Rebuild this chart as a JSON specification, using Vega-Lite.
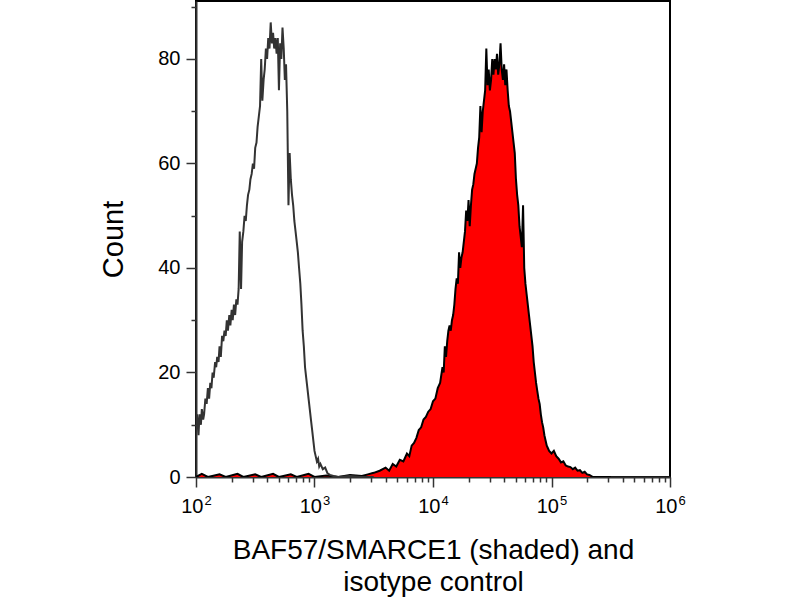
{
  "$schema": "https://vega.github.io/schema/vega-lite/v6.json",
  "width": 474,
  "height": 476,
  "autosize": {"type": "none"},
  "padding": {"left": 196, "top": 1, "right": 130, "bottom": 123},
  "background": "white",
  "config": {
    "view": {"stroke": "black", "strokeWidth": 2},
    "axis": {
      "grid": false,
      "domainColor": "#333333",
      "domainWidth": 2,
      "tickColor": "#333333",
      "tickWidth": 1.5,
      "labelFont": "Liberation Sans",
      "labelFontSize": 20,
      "labelColor": "black",
      "titleFont": "Liberation Sans",
      "titleFontWeight": "normal",
      "titleColor": "black"
    }
  },
  "datasets": {
    "shaded": [
      {"intensity": 100, "count": 0}, {"intensity": 112, "count": 0.6}, {"intensity": 126, "count": 0},
      {"intensity": 158, "count": 0.5}, {"intensity": 178, "count": 0}, {"intensity": 224, "count": 0.6},
      {"intensity": 251, "count": 0}, {"intensity": 316, "count": 0.5}, {"intensity": 355, "count": 0},
      {"intensity": 447, "count": 0.6}, {"intensity": 501, "count": 0}, {"intensity": 631, "count": 0.5},
      {"intensity": 708, "count": 0}, {"intensity": 891, "count": 0.6}, {"intensity": 1000, "count": 0},
      {"intensity": 1259, "count": 0.3}, {"intensity": 1585, "count": 0}, {"intensity": 1995, "count": 0.4},
      {"intensity": 2512, "count": 0.2}, {"intensity": 2818, "count": 0.5}, {"intensity": 3162, "count": 0.8},
      {"intensity": 3548, "count": 1.2}, {"intensity": 3981, "count": 1.8}, {"intensity": 4266, "count": 1.2},
      {"intensity": 4571, "count": 2.5}, {"intensity": 4898, "count": 2.0}, {"intensity": 5248, "count": 3.3},
      {"intensity": 5623, "count": 3.0}, {"intensity": 6026, "count": 4.5}, {"intensity": 6310, "count": 4.0},
      {"intensity": 6607, "count": 6.0}, {"intensity": 6918, "count": 6.5}, {"intensity": 7244, "count": 7.5},
      {"intensity": 7586, "count": 9.0}, {"intensity": 7943, "count": 9.5}, {"intensity": 8318, "count": 11},
      {"intensity": 8710, "count": 11.5}, {"intensity": 9120, "count": 12.5}, {"intensity": 9550, "count": 13},
      {"intensity": 10000, "count": 14.5}, {"intensity": 10471, "count": 15}, {"intensity": 10965, "count": 17},
      {"intensity": 11482, "count": 18}, {"intensity": 12023, "count": 21}, {"intensity": 12303, "count": 20},
      {"intensity": 12589, "count": 25}, {"intensity": 12882, "count": 23}, {"intensity": 13183, "count": 26},
      {"intensity": 13490, "count": 28}, {"intensity": 13804, "count": 29}, {"intensity": 14125, "count": 28},
      {"intensity": 14454, "count": 30}, {"intensity": 14791, "count": 31}, {"intensity": 15136, "count": 33},
      {"intensity": 15488, "count": 36}, {"intensity": 15849, "count": 38}, {"intensity": 16218, "count": 37},
      {"intensity": 16596, "count": 43}, {"intensity": 16982, "count": 40}, {"intensity": 17378, "count": 42},
      {"intensity": 17783, "count": 43}, {"intensity": 18197, "count": 45}, {"intensity": 18621, "count": 47},
      {"intensity": 19055, "count": 51}, {"intensity": 19498, "count": 49}, {"intensity": 19953, "count": 53},
      {"intensity": 20417, "count": 48}, {"intensity": 20893, "count": 52}, {"intensity": 21380, "count": 55},
      {"intensity": 21878, "count": 56}, {"intensity": 22387, "count": 58}, {"intensity": 22909, "count": 59},
      {"intensity": 23442, "count": 60}, {"intensity": 23988, "count": 63}, {"intensity": 24547, "count": 65},
      {"intensity": 25119, "count": 71}, {"intensity": 25704, "count": 66}, {"intensity": 26303, "count": 70},
      {"intensity": 26915, "count": 72}, {"intensity": 27542, "count": 74}, {"intensity": 28184, "count": 82},
      {"intensity": 28840, "count": 75}, {"intensity": 29512, "count": 78}, {"intensity": 30200, "count": 74},
      {"intensity": 30903, "count": 76}, {"intensity": 31623, "count": 80}, {"intensity": 32359, "count": 77},
      {"intensity": 33113, "count": 80}, {"intensity": 33884, "count": 78}, {"intensity": 34674, "count": 81},
      {"intensity": 35481, "count": 77}, {"intensity": 36308, "count": 79}, {"intensity": 37154, "count": 83},
      {"intensity": 38019, "count": 78}, {"intensity": 38905, "count": 76}, {"intensity": 39811, "count": 79},
      {"intensity": 40738, "count": 75}, {"intensity": 41687, "count": 78}, {"intensity": 42658, "count": 74},
      {"intensity": 43652, "count": 71}, {"intensity": 44668, "count": 70}, {"intensity": 45709, "count": 68},
      {"intensity": 46774, "count": 66}, {"intensity": 47863, "count": 64}, {"intensity": 48978, "count": 62},
      {"intensity": 50119, "count": 57}, {"intensity": 51286, "count": 54}, {"intensity": 52481, "count": 52},
      {"intensity": 53703, "count": 48}, {"intensity": 54954, "count": 46}, {"intensity": 56234, "count": 44},
      {"intensity": 57544, "count": 52}, {"intensity": 58884, "count": 40}, {"intensity": 60256, "count": 37},
      {"intensity": 61660, "count": 35}, {"intensity": 63096, "count": 33}, {"intensity": 64565, "count": 31},
      {"intensity": 66069, "count": 29}, {"intensity": 67608, "count": 27}, {"intensity": 69183, "count": 25},
      {"intensity": 70795, "count": 22}, {"intensity": 72444, "count": 20}, {"intensity": 74131, "count": 18},
      {"intensity": 75858, "count": 16.5}, {"intensity": 77625, "count": 15}, {"intensity": 79433, "count": 14},
      {"intensity": 81283, "count": 12}, {"intensity": 83176, "count": 10.5}, {"intensity": 85114, "count": 9.5},
      {"intensity": 87096, "count": 8}, {"intensity": 89125, "count": 7}, {"intensity": 91201, "count": 6},
      {"intensity": 93325, "count": 5.5}, {"intensity": 95499, "count": 5}, {"intensity": 100000, "count": 4.5},
      {"intensity": 104713, "count": 5}, {"intensity": 109648, "count": 4}, {"intensity": 114815, "count": 3.5},
      {"intensity": 120226, "count": 2.8}, {"intensity": 125893, "count": 3}, {"intensity": 131826, "count": 2.2},
      {"intensity": 138038, "count": 2.0}, {"intensity": 144544, "count": 1.9}, {"intensity": 151356, "count": 1.5},
      {"intensity": 158489, "count": 1.8}, {"intensity": 165959, "count": 1.2}, {"intensity": 173780, "count": 1.3},
      {"intensity": 181970, "count": 0.8}, {"intensity": 190546, "count": 1}, {"intensity": 199526, "count": 0.5},
      {"intensity": 208930, "count": 0.4}, {"intensity": 223872, "count": 0}, {"intensity": 316228, "count": 0}
    ],
    "isotype": [
      {"intensity": 100, "count": 9}, {"intensity": 102, "count": 12}, {"intensity": 105, "count": 8},
      {"intensity": 107, "count": 12}, {"intensity": 110, "count": 10}, {"intensity": 112, "count": 13},
      {"intensity": 115, "count": 11}, {"intensity": 117, "count": 12}, {"intensity": 120, "count": 15},
      {"intensity": 123, "count": 14}, {"intensity": 126, "count": 17}, {"intensity": 129, "count": 15},
      {"intensity": 132, "count": 18}, {"intensity": 135, "count": 17}, {"intensity": 138, "count": 20},
      {"intensity": 141, "count": 19}, {"intensity": 145, "count": 22}, {"intensity": 148, "count": 21},
      {"intensity": 151, "count": 23}, {"intensity": 155, "count": 22}, {"intensity": 158, "count": 25},
      {"intensity": 162, "count": 23}, {"intensity": 166, "count": 27}, {"intensity": 170, "count": 26},
      {"intensity": 174, "count": 28}, {"intensity": 178, "count": 27}, {"intensity": 182, "count": 30},
      {"intensity": 186, "count": 28}, {"intensity": 191, "count": 31}, {"intensity": 195, "count": 29},
      {"intensity": 200, "count": 32}, {"intensity": 204, "count": 30}, {"intensity": 209, "count": 33},
      {"intensity": 214, "count": 31}, {"intensity": 219, "count": 34}, {"intensity": 224, "count": 33},
      {"intensity": 229, "count": 36}, {"intensity": 234, "count": 47}, {"intensity": 240, "count": 36},
      {"intensity": 245, "count": 45}, {"intensity": 251, "count": 47}, {"intensity": 257, "count": 50},
      {"intensity": 263, "count": 49}, {"intensity": 269, "count": 52}, {"intensity": 275, "count": 54},
      {"intensity": 282, "count": 55}, {"intensity": 288, "count": 57}, {"intensity": 295, "count": 58},
      {"intensity": 302, "count": 60}, {"intensity": 309, "count": 59}, {"intensity": 316, "count": 63},
      {"intensity": 324, "count": 64}, {"intensity": 331, "count": 67}, {"intensity": 339, "count": 69},
      {"intensity": 347, "count": 71}, {"intensity": 355, "count": 80}, {"intensity": 363, "count": 72},
      {"intensity": 372, "count": 76}, {"intensity": 380, "count": 78}, {"intensity": 389, "count": 82},
      {"intensity": 398, "count": 80}, {"intensity": 407, "count": 84}, {"intensity": 417, "count": 82},
      {"intensity": 427, "count": 87}, {"intensity": 437, "count": 83}, {"intensity": 447, "count": 85},
      {"intensity": 457, "count": 82}, {"intensity": 468, "count": 84}, {"intensity": 479, "count": 81},
      {"intensity": 490, "count": 84}, {"intensity": 501, "count": 74}, {"intensity": 513, "count": 83},
      {"intensity": 525, "count": 80}, {"intensity": 537, "count": 86}, {"intensity": 550, "count": 82},
      {"intensity": 562, "count": 76}, {"intensity": 575, "count": 79}, {"intensity": 589, "count": 70},
      {"intensity": 603, "count": 52}, {"intensity": 617, "count": 62}, {"intensity": 631, "count": 57},
      {"intensity": 646, "count": 54}, {"intensity": 661, "count": 52}, {"intensity": 676, "count": 49},
      {"intensity": 692, "count": 47}, {"intensity": 708, "count": 45}, {"intensity": 724, "count": 43},
      {"intensity": 741, "count": 40}, {"intensity": 759, "count": 37}, {"intensity": 776, "count": 33},
      {"intensity": 794, "count": 28}, {"intensity": 813, "count": 25}, {"intensity": 832, "count": 21},
      {"intensity": 851, "count": 19}, {"intensity": 871, "count": 17}, {"intensity": 891, "count": 15},
      {"intensity": 912, "count": 13}, {"intensity": 933, "count": 11}, {"intensity": 955, "count": 9},
      {"intensity": 977, "count": 7}, {"intensity": 1000, "count": 5}, {"intensity": 1023, "count": 4},
      {"intensity": 1047, "count": 3}, {"intensity": 1072, "count": 3.5}, {"intensity": 1096, "count": 2},
      {"intensity": 1122, "count": 2.5}, {"intensity": 1175, "count": 1.5}, {"intensity": 1230, "count": 1.8},
      {"intensity": 1288, "count": 0.7}, {"intensity": 1349, "count": 0.4}, {"intensity": 1445, "count": 0.2},
      {"intensity": 1585, "count": 0}, {"intensity": 1995, "count": 0.2}, {"intensity": 2512, "count": 0},
      {"intensity": 3162, "count": 0}
    ]
  },
  "resolve": {"axis": {"x": "independent", "y": "independent"}},
  "layer": [
    {
      "data": {"name": "shaded"},
      "mark": {"type": "area", "color": "#ff0000", "clip": true},
      "encoding": {
        "x": {
          "field": "intensity",
          "type": "quantitative",
          "scale": {"type": "log", "domain": [100, 1000000], "nice": false},
          "axis": {
            "orient": "bottom",
            "values": [100, 1000, 10000, 100000, 1000000],
            "labelExpr": "'10'",
            "labelAlign": "right",
            "labelOffset": 7,
            "tickSize": 10,
            "labelPadding": 9,
            "labelFlush": false,
            "labelOverlap": false,
            "title": ["BAF57/SMARCE1 (shaded) and", "isotype control"],
            "titleFontSize": 28,
            "titleBaseline": "alphabetic",
            "titleY": 81,
            "titleLineHeight": 32
          }
        },
        "y": {
          "field": "count",
          "type": "quantitative",
          "scale": {"domain": [0, 91.1], "nice": false},
          "axis": {
            "orient": "left",
            "values": [0, 20, 40, 60, 80],
            "tickSize": 10,
            "labelPadding": 6,
            "title": "Count",
            "titleFontSize": 29,
            "titleBaseline": "alphabetic",
            "titleAngle": 270,
            "titleX": -74,
            "titleY": 238
          }
        }
      }
    },
    {
      "data": {"name": "shaded"},
      "mark": {"type": "line", "color": "black", "strokeWidth": 2, "clip": true},
      "encoding": {
        "x": {
          "field": "intensity",
          "type": "quantitative",
          "axis": {
            "orient": "bottom",
            "values": [100, 1000, 10000, 100000, 1000000],
            "labelExpr": "round(log(datum.value) / LN10)",
            "labelAlign": "left",
            "labelOffset": 8,
            "labelFontSize": 13,
            "labelPadding": 17,
            "labelFlush": false,
            "labelOverlap": false,
            "ticks": false,
            "tickSize": 0,
            "domain": false,
            "title": null
          }
        },
        "y": {"field": "count", "type": "quantitative", "axis": null}
      }
    },
    {
      "data": {"name": "isotype"},
      "mark": {"type": "line", "color": "#333333", "strokeWidth": 2, "clip": true},
      "encoding": {
        "x": {
          "field": "intensity",
          "type": "quantitative",
          "axis": {
            "orient": "bottom",
            "values": [200, 300, 400, 500, 600, 700, 800, 900, 2000, 3000, 4000, 5000, 6000, 7000, 8000, 9000, 20000, 30000, 40000, 50000, 60000, 70000, 80000, 90000, 200000, 300000, 400000, 500000, 600000, 700000, 800000, 900000],
            "tickSize": 5,
            "labels": false,
            "domain": false,
            "title": null
          }
        },
        "y": {
          "field": "count",
          "type": "quantitative",
          "axis": {
            "orient": "left",
            "values": [10, 30, 50, 70, 90],
            "tickSize": 5,
            "labels": false,
            "domain": false,
            "title": null
          }
        }
      }
    }
  ]
}
